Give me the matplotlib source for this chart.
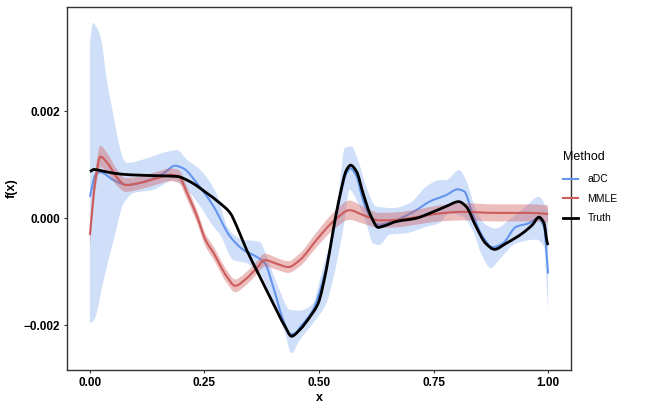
import numpy as np
import matplotlib
matplotlib.use("Agg")
import matplotlib.pyplot as plt
from matplotlib.lines import Line2D
from matplotlib.path import Path
from matplotlib.patches import PathPatch

plt.rcParams['font.family'] = ['Liberation Sans', 'DejaVu Sans']

SCALE = 1e-3  # values below are in units of 1e-3

truth_x = [0, 0.009, 0.023, 0.052, 0.089, 0.161, 0.19, 0.219, 0.255, 0.284, 0.306, 0.321,
           0.342, 0.371, 0.40, 0.426, 0.44, 0.458, 0.48, 0.498, 0.516, 0.531, 0.545, 0.56,
           0.569, 0.582, 0.596, 0.614, 0.629, 0.643, 0.669, 0.712, 0.741, 0.777, 0.805,
           0.821, 0.843, 0.864, 0.883, 0.908, 0.944, 0.966, 0.98, 0.991, 0.998, 1.0]
truth_y = [0.87, 0.91, 0.89, 0.84, 0.81, 0.79, 0.78, 0.68, 0.47, 0.28, 0.10, -0.16,
           -0.59, -1.09, -1.59, -2.02, -2.20, -2.08, -1.84, -1.59, -0.96, -0.22, 0.40, 0.90,
           0.99, 0.87, 0.47, 0.03, -0.17, -0.14, -0.06, 0.0, 0.09, 0.22, 0.31,
           0.22, -0.16, -0.47, -0.58, -0.47, -0.28, -0.12, 0.02, -0.09, -0.45, -0.50]

adc_x = [0, 0.012, 0.022, 0.052, 0.081, 0.125, 0.161, 0.186, 0.204, 0.234, 0.27, 0.306,
         0.335, 0.364, 0.382, 0.40, 0.422, 0.437, 0.447, 0.46, 0.487, 0.509, 0.531, 0.545,
         0.56, 0.569, 0.582, 0.596, 0.611, 0.629, 0.669, 0.712, 0.741, 0.777, 0.803, 0.817,
         0.835, 0.857, 0.879, 0.901, 0.93, 0.959, 0.977, 0.991, 1.0]
adc_y = [0.40, 0.81, 0.86, 0.71, 0.62, 0.70, 0.84, 0.98, 0.93, 0.65, 0.22, -0.34,
         -0.59, -0.72, -0.84, -1.28, -1.90, -2.16, -2.15, -2.02, -1.71, -1.15, -0.28, 0.35,
         0.84, 0.93, 0.78, 0.34, 0.03, -0.12, -0.03, 0.15, 0.31, 0.43, 0.54, 0.50,
         0.09, -0.34, -0.54, -0.47, -0.16, -0.09, 0.0, -0.16, -1.03]

adc_up_x = [0, 0.0065, 0.023, 0.038, 0.052, 0.063, 0.074, 0.081, 0.125, 0.168, 0.19, 0.212,
            0.241, 0.277, 0.298, 0.313, 0.335, 0.371, 0.386, 0.408, 0.437, 0.458, 0.487,
            0.502, 0.516, 0.531, 0.545, 0.556, 0.571, 0.585, 0.603, 0.625, 0.661, 0.698,
            0.734, 0.763, 0.777, 0.806, 0.821, 0.843, 0.864, 0.886, 0.915, 0.951, 0.98, 1.0]
adc_up_y = [3.27, 3.64, 3.39, 2.52, 1.90, 1.40, 1.09, 1.03, 1.12, 1.24, 1.27, 1.09,
            0.90, 0.45, -0.12, -0.30, -0.40, -0.44, -0.72, -1.21, -1.71, -1.72, -1.59,
            -1.15, -0.70, -0.22, 0.60, 1.31, 1.34, 1.09, 0.59, 0.22, 0.19, 0.28,
            0.59, 0.71, 0.71, 0.90, 0.71, 0.15, -0.12, -0.19, -0.03, 0.22, 0.40, 0.15]

adc_lo_x = [0, 0.009, 0.03, 0.052, 0.074, 0.096, 0.139, 0.183, 0.212, 0.241, 0.27, 0.284,
            0.313, 0.342, 0.371, 0.40, 0.426, 0.44, 0.458, 0.487, 0.516, 0.531, 0.553,
            0.567, 0.582, 0.603, 0.618, 0.632, 0.654, 0.69, 0.734, 0.763, 0.784, 0.814,
            0.835, 0.857, 0.875, 0.893, 0.93, 0.973, 0.991, 1.0]
adc_lo_y = [-1.96, -1.90, -1.15, -0.40, 0.28, 0.47, 0.53, 0.71, 0.53, 0.22, -0.16, -0.30,
            -0.78, -0.84, -1.03, -1.59, -2.15, -2.52, -2.27, -1.96, -1.59, -1.13, -0.20,
            0.53, 0.34, -0.09, -0.47, -0.50, -0.31, -0.28, -0.16, -0.09, 0.09, 0.03,
            -0.22, -0.72, -0.93, -0.78, -0.47, -0.40, -0.53, -1.71]

mmle_x = [0, 0.012, 0.023, 0.038, 0.06, 0.078, 0.11, 0.147, 0.176, 0.194, 0.212, 0.234,
          0.252, 0.27, 0.299, 0.317, 0.342, 0.364, 0.382, 0.408, 0.433, 0.458, 0.495,
          0.531, 0.567, 0.596, 0.632, 0.669, 0.712, 0.763, 0.814, 0.886, 0.959, 1.0]
mmle_y = [-0.31, 0.71, 1.15, 1.03, 0.75, 0.62, 0.66, 0.75, 0.81, 0.78, 0.47, 0.03,
          -0.40, -0.65, -1.09, -1.26, -1.12, -0.93, -0.78, -0.85, -0.91, -0.78, -0.40,
          -0.06, 0.15, 0.06, -0.04, -0.03, 0.02, 0.09, 0.12, 0.10, 0.10, 0.08]
mmle_hw = [0.20, 0.20, 0.20, 0.18, 0.15, 0.13, 0.12, 0.12, 0.12, 0.12, 0.12, 0.12,
           0.12, 0.12, 0.12, 0.12, 0.12, 0.12, 0.12, 0.11, 0.11, 0.12, 0.14,
           0.16, 0.18, 0.16, 0.14, 0.14, 0.14, 0.15, 0.16, 0.16, 0.16, 0.16]

methods = ["aDC", "MMLE", "Truth"]
colors = {"aDC": "#6495ED", "MMLE": "#CD5C5C", "Truth": "#000000"}


def _slopes(x, y):
    x = np.asarray(x, float); y = np.asarray(y, float)
    h = np.diff(x); d = np.diff(y) / h
    m = np.zeros_like(y)
    m[0], m[-1] = d[0], d[-1]
    for k in range(1, len(y) - 1):
        if d[k - 1] * d[k] <= 0:
            m[k] = 0.0
        else:
            w1 = 2 * h[k] + h[k - 1]
            w2 = h[k] + 2 * h[k - 1]
            m[k] = (w1 + w2) / (w1 / d[k - 1] + w2 / d[k])
    return m


def smooth_verts(x, y):
    """Bezier control vertices passing through every read point (drawn by matplotlib Path)."""
    x = np.asarray(x, float); y = np.asarray(y, float)
    m = _slopes(x, y)
    verts = [(x[0], y[0])]
    for i in range(len(x) - 1):
        h = x[i + 1] - x[i]
        verts.append((x[i] + h / 3, y[i] + m[i] * h / 3))
        verts.append((x[i + 1] - h / 3, y[i + 1] - m[i + 1] * h / 3))
        verts.append((x[i + 1], y[i + 1]))
    return verts


def curve_path(x, y):
    v = smooth_verts(x, y)
    codes = [Path.MOVETO] + [Path.CURVE4] * (len(v) - 1)
    return Path(v, codes)


def band_path(xu, yu, xl, yl):
    vu = smooth_verts(xu, yu)
    vl = smooth_verts(xl, yl)[::-1]
    verts = vu + [vl[0]] + vl[1:] + [vu[0]]
    codes = ([Path.MOVETO] + [Path.CURVE4] * (len(vu) - 1) + [Path.LINETO]
             + [Path.CURVE4] * (len(vl) - 1) + [Path.CLOSEPOLY])
    return Path(verts, codes)


W, H = 658, 411
fig = plt.figure(figsize=(W / 100, H / 100), dpi=100)
ax = fig.add_axes([67 / W, (H - 370) / H, (571 - 67) / W, (370 - 7) / H])

s = lambda v: np.asarray(v) * SCALE

ax.add_patch(PathPatch(band_path(adc_up_x, s(adc_up_y), adc_lo_x, s(adc_lo_y)),
                       facecolor=colors["aDC"], alpha=0.3, lw=0))
ax.add_patch(PathPatch(curve_path(adc_x, s(adc_y)), facecolor='none',
                       edgecolor=colors["aDC"], lw=1.5, capstyle='butt'))

mm = s(mmle_y)
hw = s(mmle_hw)
ax.add_patch(PathPatch(band_path(mmle_x, mm + hw, mmle_x, mm - hw),
                       facecolor=colors["MMLE"], alpha=0.4, lw=0))
ax.add_patch(PathPatch(curve_path(mmle_x, mm), facecolor='none',
                       edgecolor=colors["MMLE"], lw=1.5, capstyle='butt'))

ax.add_patch(PathPatch(curve_path(truth_x, s(truth_y)), facecolor='none',
                       edgecolor=colors["Truth"], lw=2.0, capstyle='butt'))

ax.set_xlim(-0.05, 1.05)
ax.set_ylim(-0.00283, 0.00394)
ax.set_xticks([0, 0.25, 0.5, 0.75, 1.0])
ax.set_xticklabels(["0.00", "0.25", "0.50", "0.75", "1.00"])
ax.set_yticks([-0.002, 0.0, 0.002])
ax.set_yticklabels(["\u22120.002", "0.000", "0.002"])
for lab in ax.get_xticklabels() + ax.get_yticklabels():
    lab.set_fontweight('bold')
    lab.set_fontsize(8.5)
    lab.set_color('black')
ax.tick_params(direction='out', length=2.5, width=0.8, color='#333333', pad=2.5)
for sp in ax.spines.values():
    sp.set_color('#333333')
    sp.set_linewidth(1.0)
ax.set_xlabel("x", fontsize=9, fontweight='bold', labelpad=2)
ax.set_ylabel("f(x)", fontsize=9, fontweight='bold', labelpad=4)

handles = [Line2D([0], [0], color=colors[m], lw=2.0 if m == "Truth" else 1.5) for m in methods]
leg = fig.legend(handles, methods, title="Method", loc='upper left',
                 bbox_to_anchor=(554 / W, 1 - 142 / H), frameon=False,
                 fontsize=7.5, title_fontsize=9, handlelength=1.4,
                 handletextpad=0.9, labelspacing=0.9)
leg._legend_box.align = "left"
leg._legend_box.sep = 8

fig.savefig("out.png", dpi=100)
